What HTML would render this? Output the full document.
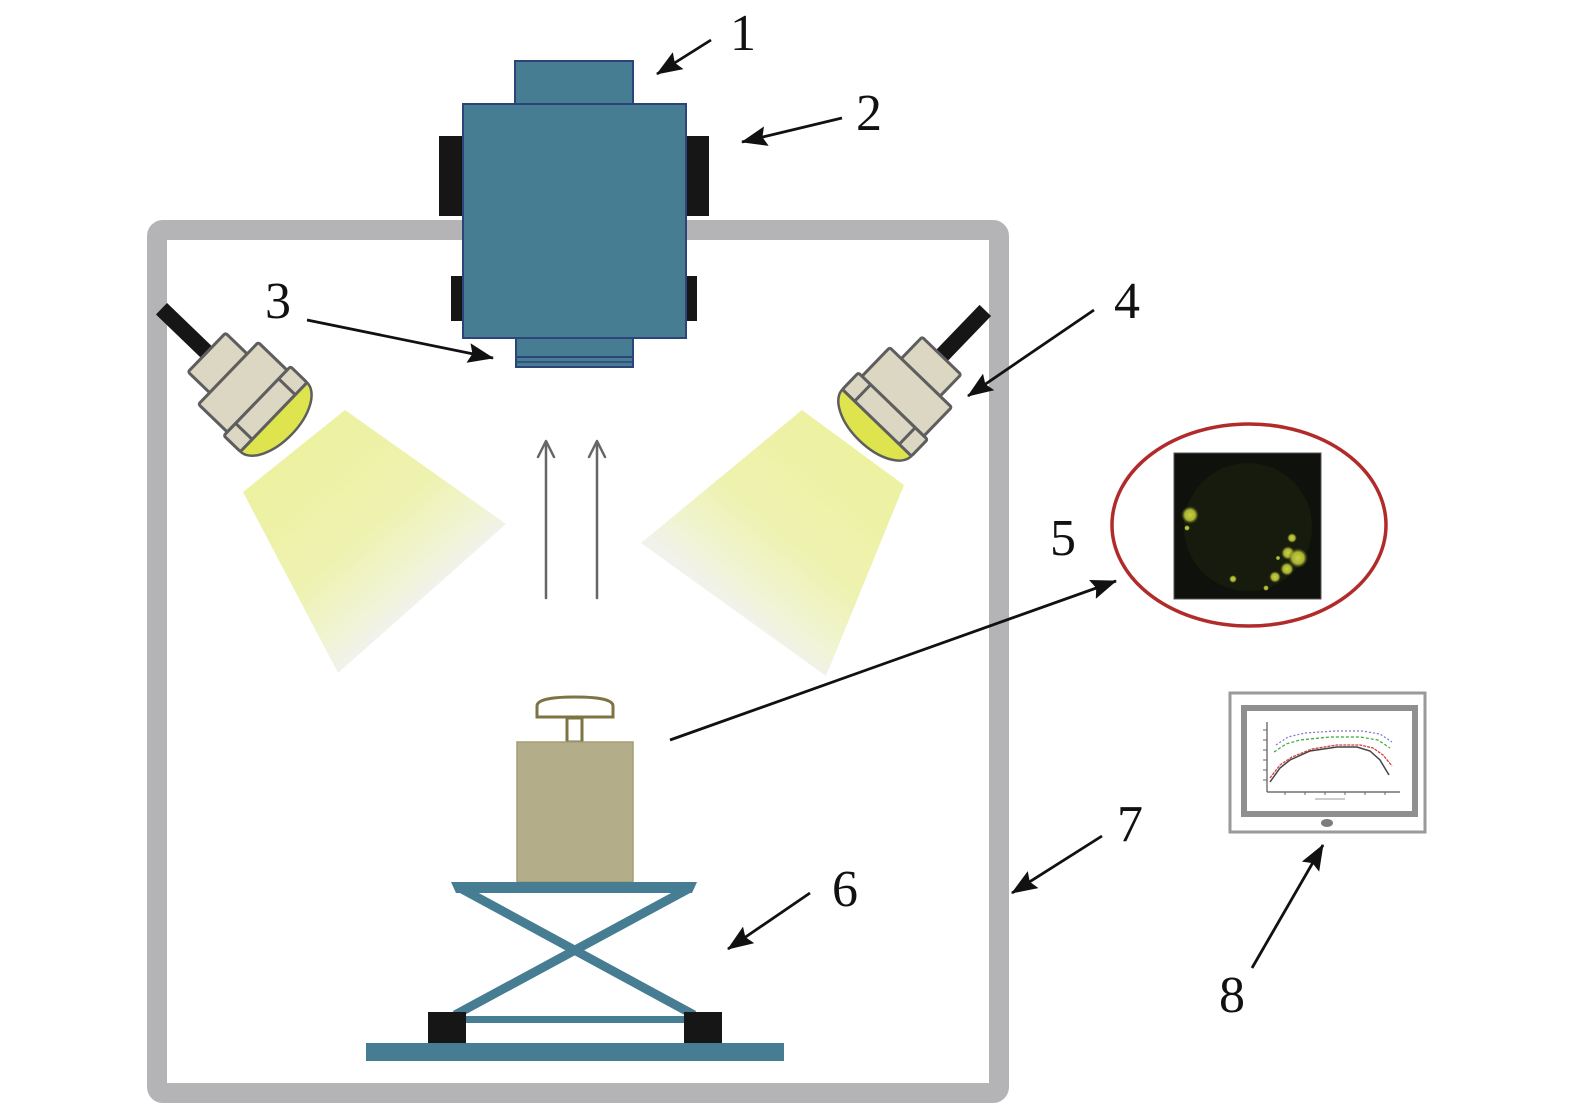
<!DOCTYPE html>
<html>
<head>
<meta charset="utf-8">
<style>
  html, body { margin:0; padding:0; background:#ffffff; }
  svg { display:block; }
  text { font-family: "Liberation Serif", "DejaVu Serif", serif; }
</style>
</head>
<body>
<svg width="1575" height="1106" viewBox="0 0 1575 1106" xmlns="http://www.w3.org/2000/svg">
  <defs>
    <marker id="ah" viewBox="0 0 26 20" refX="25" refY="10" markerWidth="26" markerHeight="20" markerUnits="userSpaceOnUse" orient="auto">
      <path d="M0,0 L26,10 L0,20 L4,10 Z" fill="#111"/>
    </marker>
    <linearGradient id="gl" gradientUnits="userSpaceOnUse" x1="300" y1="455" x2="432" y2="612">
      <stop offset="0" stop-color="#edf1a2"/>
      <stop offset="0.5" stop-color="#eef2b0"/>
      <stop offset="0.78" stop-color="#f1f4d4"/>
      <stop offset="0.9" stop-color="#f1f2e8"/>
      <stop offset="1" stop-color="#f2f2f0"/>
    </linearGradient>
    <linearGradient id="gr" gradientUnits="userSpaceOnUse" x1="852" y1="455" x2="718" y2="618">
      <stop offset="0" stop-color="#edf1a2"/>
      <stop offset="0.5" stop-color="#eef2b0"/>
      <stop offset="0.78" stop-color="#f1f4d4"/>
      <stop offset="0.9" stop-color="#f1f2e8"/>
      <stop offset="1" stop-color="#f2f2f0"/>
    </linearGradient>
    <radialGradient id="dot">
      <stop offset="0" stop-color="#c9d240"/>
      <stop offset="0.6" stop-color="#a8b232"/>
      <stop offset="1" stop-color="#4a5214" stop-opacity="0"/>
    </radialGradient>
    <g id="lamp">
      <rect x="-8" y="-130" width="16" height="68" fill="#161616"/>
      <path d="M-48,26 A48,25 0 0 0 48,26 Z" fill="#dde44e" stroke="#5e5e5e" stroke-width="2.5"/>
      <rect x="-27" y="-67" width="54" height="30" rx="2" fill="#dcd7c2" stroke="#5e5e5e" stroke-width="3"/>
      <rect x="-43" y="-37" width="86" height="40" rx="2" fill="#dcd7c2" stroke="#5e5e5e" stroke-width="3"/>
      <rect x="-48" y="3" width="96" height="23" rx="2" fill="#dcd7c2" stroke="#5e5e5e" stroke-width="3"/>
      <line x1="-31" y1="3" x2="-31" y2="26" stroke="#5e5e5e" stroke-width="3"/>
      <line x1="31" y1="3" x2="31" y2="26" stroke="#5e5e5e" stroke-width="3"/>
    </g>
  </defs>

  <!-- enclosure frame -->
  <rect x="157" y="230" width="842" height="863" rx="6" fill="none" stroke="#b4b3b5" stroke-width="20"/>

  <!-- camera -->
  <rect x="439" y="136" width="30" height="80" fill="#161616"/>
  <rect x="680" y="136" width="29" height="80" fill="#161616"/>
  <rect x="451" y="276" width="18" height="45" fill="#161616"/>
  <rect x="680" y="276" width="17" height="45" fill="#161616"/>
  <rect x="515" y="61" width="118" height="43" fill="#467d93" stroke="#2d4478" stroke-width="2"/>
  <rect x="463" y="104" width="223" height="234" fill="#467d93" stroke="#2d4478" stroke-width="2"/>
  <rect x="516" y="338" width="117" height="29" fill="#467d93" stroke="#2d4478" stroke-width="2"/>
  <line x1="516" y1="357" x2="633" y2="357" stroke="#2d4478" stroke-width="2"/>
  <line x1="516" y1="362" x2="633" y2="362" stroke="#2d4478" stroke-width="1.5"/>

  <!-- light cones -->
  <polygon points="345,410 243,492 338,673 506,524" fill="url(#gl)"/>
  <polygon points="802,410 904,485 826,676 641,543" fill="url(#gr)"/>

  <!-- lamps -->
  <use href="#lamp" transform="translate(255,399) rotate(-46)"/>
  <use href="#lamp" transform="translate(895,404) scale(-1,1) rotate(-44)"/>

  <!-- upward arrows -->
  <g stroke="#666" stroke-width="2.5" fill="none" stroke-linecap="round" stroke-linejoin="round">
    <line x1="546" y1="598" x2="546" y2="442"/>
    <polyline points="538,457 546,441 554,457"/>
    <line x1="597" y1="598" x2="597" y2="442"/>
    <polyline points="589,457 597,441 605,457"/>
  </g>

  <!-- weight -->
  <path d="M537,717 L537,706 Q537,697 575,697 Q613,697 613,706 L613,717 Z" fill="#fff" stroke="#7d7444" stroke-width="3"/>
  <rect x="567" y="718" width="15" height="24" fill="#fff" stroke="#7d7444" stroke-width="3"/>
  <rect x="517" y="742" width="116" height="140" fill="#b3ae89" stroke="#a39d74" stroke-width="1.5"/>

  <!-- scissor lift -->
  <g fill="#467d93">
    <polygon points="451,882 697,882 692,893 456,893"/>
    <rect x="466" y="1016" width="218" height="7"/>
    <rect x="366" y="1043" width="418" height="18"/>
  </g>
  <g stroke="#467d93" stroke-width="9">
    <line x1="462" y1="889" x2="694" y2="1015"/>
    <line x1="688" y1="889" x2="455" y2="1015"/>
  </g>
  <rect x="428" y="1012" width="38" height="31" fill="#161616"/>
  <rect x="684" y="1012" width="38" height="31" fill="#161616"/>

  <!-- sample image in ellipse -->
  <ellipse cx="1249" cy="525" rx="137" ry="101" fill="#fff" stroke="#b12b2b" stroke-width="3.5"/>
  <rect x="1174" y="453" width="147" height="146" fill="#0f110c" stroke="#555" stroke-width="1"/>
  <circle cx="1248" cy="527" r="64" fill="#171b0e"/>
  <g fill="url(#dot)">
    <circle cx="1190" cy="515" r="9"/>
    <circle cx="1187" cy="528" r="3"/>
    <circle cx="1292" cy="538" r="5"/>
    <circle cx="1288" cy="553" r="7"/>
    <circle cx="1298" cy="558" r="10"/>
    <circle cx="1287" cy="569" r="7"/>
    <circle cx="1275" cy="577" r="6"/>
    <circle cx="1233" cy="579" r="4"/>
    <circle cx="1266" cy="588" r="3"/>
    <circle cx="1278" cy="558" r="2.5"/>
  </g>

  <!-- monitor -->
  <rect x="1230" y="693" width="195" height="139" fill="#fff" stroke="#9a9a9a" stroke-width="3"/>
  <rect x="1244" y="708" width="171" height="106" fill="#fff" stroke="#8f8f8f" stroke-width="6"/>
  <ellipse cx="1327" cy="823" rx="6" ry="4" fill="#7d7d7d"/>
  <g fill="none" stroke-width="1.2">
    <line x1="1267" y1="722" x2="1267" y2="792" stroke="#555"/>
    <line x1="1267" y1="792" x2="1400" y2="792" stroke="#555"/>
    <polyline points="1270,782 1280,768 1290,760 1310,751 1337,747 1357,747 1370,751 1380,760 1389,775" stroke="#444" stroke-width="1.5"/>
    <polyline points="1270,778 1280,765 1292,757 1312,749 1337,745 1360,745 1373,748 1383,755 1392,766" stroke="#c44" stroke-width="1.3" stroke-dasharray="3,1"/>
    <polyline points="1274,752 1286,744 1300,740 1330,737 1360,737 1378,740 1390,748" stroke="#3a3" stroke-width="1.2" stroke-dasharray="3,2"/>
    <polyline points="1276,745 1288,737 1305,733 1335,731 1362,731 1380,734 1392,742" stroke="#77c" stroke-width="1.2" stroke-dasharray="2,2"/>
  </g>
  <g stroke="#666" stroke-width="1">
    <line x1="1263" y1="730" x2="1267" y2="730"/><line x1="1263" y1="740" x2="1267" y2="740"/>
    <line x1="1263" y1="750" x2="1267" y2="750"/><line x1="1263" y1="760" x2="1267" y2="760"/>
    <line x1="1263" y1="770" x2="1267" y2="770"/><line x1="1263" y1="780" x2="1267" y2="780"/>
    <line x1="1285" y1="792" x2="1285" y2="795"/><line x1="1305" y1="792" x2="1305" y2="795"/>
    <line x1="1325" y1="792" x2="1325" y2="795"/><line x1="1345" y1="792" x2="1345" y2="795"/>
    <line x1="1365" y1="792" x2="1365" y2="795"/><line x1="1385" y1="792" x2="1385" y2="795"/>
    <line x1="1315" y1="799" x2="1345" y2="799" stroke="#999"/>
  </g>

  <!-- leader arrows -->
  <g stroke="#111" stroke-width="2.8" fill="none" marker-end="url(#ah)">
    <line x1="711" y1="40" x2="657" y2="74"/>
    <line x1="842" y1="118" x2="742" y2="142"/>
    <line x1="307" y1="320" x2="493" y2="358"/>
    <line x1="1094" y1="310" x2="968" y2="396"/>
    <line x1="670" y1="740" x2="1116" y2="581"/>
    <line x1="810" y1="893" x2="728" y2="949"/>
    <line x1="1102" y1="836" x2="1012" y2="893"/>
    <line x1="1252" y1="968" x2="1323" y2="845"/>
  </g>

  <!-- labels -->
  <g font-size="52" fill="#111" text-anchor="middle">
    <text x="743" y="50">1</text>
    <text x="869" y="130">2</text>
    <text x="278" y="318">3</text>
    <text x="1127" y="318">4</text>
    <text x="1063" y="555">5</text>
    <text x="845" y="906">6</text>
    <text x="1130" y="841">7</text>
    <text x="1232" y="1012">8</text>
  </g>
</svg>
</body>
</html>
